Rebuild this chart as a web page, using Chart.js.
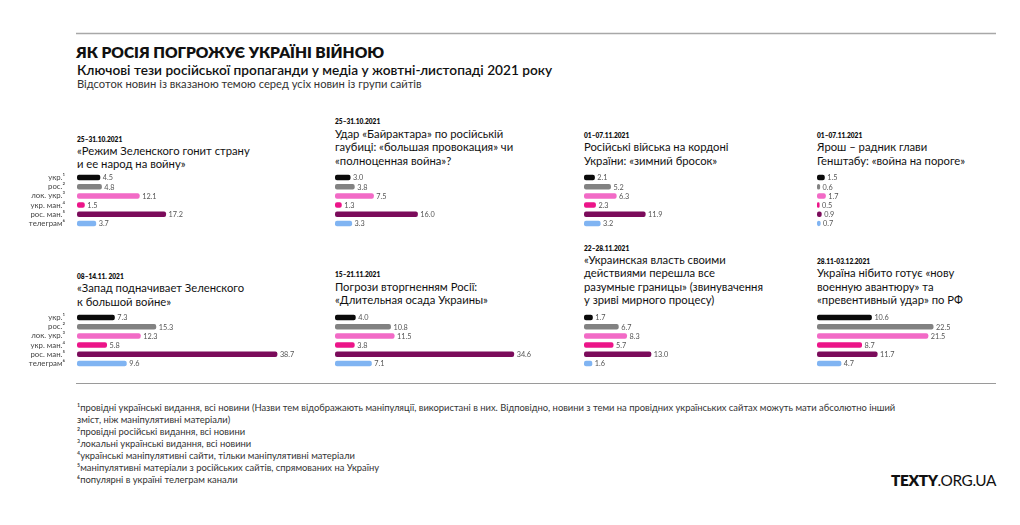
<!DOCTYPE html>
<html><head><meta charset="utf-8">
<script src="https://cdn.jsdelivr.net/npm/chart.js@4.4.1/dist/chart.umd.min.js"></script>
<style>
html,body{margin:0;padding:0;background:#fff;width:1020px;height:525px;overflow:hidden;}
#wrap{position:relative;width:1020px;height:525px;}
svg{position:absolute;left:0;top:0;}
canvas{position:absolute;}
</style></head><body><div id="wrap"><svg id="txt" width="1020" height="525" xmlns="http://www.w3.org/2000/svg"></svg></div>
<script>
// ---- data ----
const categories = ['укр.¹', 'рос.²', 'лок. укр.³', 'укр. ман.⁴', 'рос. ман.⁵', 'телеграм⁶'];
const panelDates = ['25–31.10.2021', '25–31.10.2021', '01–07.11.2021', '01–07.11.2021',
                    '08–14.11. 2021', '15–21.11.2021', '22–28.11.2021', '28.11-03.12.2021'];
const panelTitles = [
  ['«Режим Зеленского гонит страну', 'и ее народ на войну»'],
  ['Удар «Байрактара» по російській', 'гаубиці: «большая провокация» чи', '«полноценная война»?'],
  ['Російські війська на кордоні', 'України: «зимний бросок»'],
  ['Ярош – радник глави', 'Генштабу:  «война на пороге»'],
  ['«Запад подначивает Зеленского', 'к большой войне»'],
  ['Погрози вторгненням Росії:', '«Длительная осада Украины»'],
  ['«Украинская власть своими', 'действиями перешла все', 'разумные границы» (звинувачення', 'у зриві мирного процесу)'],
  ['Україна нібито готує «нову', 'военную авантюру» та', '«превентивный удар» по РФ']
];
const values1 = [4.5, 4.8, 12.1, 1.5, 17.2, 3.7];
const values2 = [3.0, 3.8, 7.5, 1.3, 16.0, 3.3];
const values3 = [2.1, 5.2, 6.3, 2.3, 11.9, 3.2];
const values4 = [1.5, 0.6, 1.7, 0.5, 0.9, 0.7];
const values5 = [7.3, 15.3, 12.3, 5.8, 38.7, 9.6];
const values6 = [4.0, 10.8, 11.5, 3.8, 34.6, 7.1];
const values7 = [1.7, 6.7, 8.3, 5.7, 13.0, 1.6];
const values8 = [10.6, 22.5, 21.5, 8.7, 11.7, 4.7];
const panelValues = [values1, values2, values3, values4, values5, values6, values7, values8];
const footnotes = [
  '¹провідні українські видання, всі новини (Назви тем відображають маніпуляції, використані в них. Відповідно, новини з теми на провідних українських сайтах можуть мати абсолютно інший',
  'зміст, ніж маніпулятивні матеріали)',
  '²провідні російські видання, всі новини',
  '³локальні українські видання, всі новини',
  '⁴українські маніпулятивні сайти, тільки маніпулятивні матеріали',
  '⁵маніпулятивні матеріали з російських сайтів, спрямованих на Україну',
  '⁶популярні в україні телеграм канали'
];
const xMax = 45;

// ---- styles ----
const FONT = 'Lato, "Open Sans", sans-serif';
const barColors = ['#0b0b0b', '#828282', '#f26ac6', '#ec1589', '#7b0b5b', '#80b4f2'];
const colX = [77, 335, 584, 817];
const rowBarTop = [172.5, 313];
const rowLastBaseline = [164.5, 304];
const panelShift = [3.5, 0, 0, 0, 1.5, 0, 0, 0];
const areaW = xMax * 5.18;
const axisW = 67;

// ---- static text (SVG) ----
const svg = document.getElementById('txt');
const NS = 'http://www.w3.org/2000/svg';
function txt(x, y, s, size, weight, color, anchor) {
  const t = document.createElementNS(NS, 'text');
  t.setAttribute('x', x); t.setAttribute('y', y);
  t.setAttribute('font-family', FONT);
  t.setAttribute('font-size', size);
  t.setAttribute('font-weight', weight || 400);
  t.setAttribute('fill', color || '#111');
  if (anchor) t.setAttribute('text-anchor', anchor);
  t.textContent = s;
  svg.appendChild(t);
  return t;
}
function line(x1, y1, x2, y2, color, w) {
  const l = document.createElementNS(NS, 'line');
  l.setAttribute('x1', x1); l.setAttribute('y1', y1);
  l.setAttribute('x2', x2); l.setAttribute('y2', y2);
  l.setAttribute('stroke', color); l.setAttribute('stroke-width', w);
  svg.appendChild(l);
}
line(76, 33.5, 996, 33.5, '#a8a8a8', 1.5);
line(76, 383.5, 996, 383.5, '#9a9a9a', 1);
txt(76, 58, 'ЯК РОСІЯ ПОГРОЖУЄ УКРАЇНІ ВІЙНОЮ', 15.5, 800, '#111');
txt(77, 74.5, 'Ключові тези російської пропаганди у медіа у жовтні-листопаді 2021 року', 13.7, 600, '#111');
txt(77, 88, 'Відсоток новин із вказаною темою серед усіх новин із групи сайтів', 11.2, 400, '#333');

panelTitles.forEach((lines, p) => {
  const row = Math.floor(p / 4), col = p % 4;
  const x = colX[col];
  const last = rowLastBaseline[row] + panelShift[p];
  const n = lines.length;
  const step = p === 0 ? 12.6 : 13.4;
  lines.forEach((s, i) => {
    txt(x, last - (n - 1 - i) * step, s, 11.25, 400, '#111');
  });
  const firstBase = last - (n - 1) * step;
  txt(x, firstBase - 13.3, panelDates[p], 6.6, 800, '#111');
});

footnotes.forEach((s, i) => {
  txt(77, 410.5 + i * 12.1, s, 9.4, 400, '#333');
});
const logo = txt(996, 486, '', 15.4, 800, '#111', 'end');
const t1 = document.createElementNS(NS, 'tspan'); t1.textContent = 'TEXTY'; t1.setAttribute('font-weight', 800);
const t2 = document.createElementNS(NS, 'tspan'); t2.textContent = '.ORG.UA'; t2.setAttribute('font-weight', 400);
logo.appendChild(t1); logo.appendChild(t2);
logo.setAttribute('letter-spacing', '-0.4');

// ---- charts ----
const valueLabels = {
  id: 'valueLabels',
  afterDatasetsDraw(chart) {
    const ctx = chart.ctx;
    const meta = chart.getDatasetMeta(0);
    const data = chart.data.datasets[0].data;
    ctx.save();
    ctx.font = '7.3px ' + FONT;
    ctx.fillStyle = '#555';
    ctx.textBaseline = 'middle';
    ctx.textAlign = 'left';
    meta.data.forEach((bar, i) => {
      ctx.fillText(data[i].toFixed(1), bar.x + 2.5, bar.y + 0.5);
    });
    ctx.restore();
  }
};

const wrap = document.getElementById('wrap');
panelValues.forEach((vals, p) => {
  const row = Math.floor(p / 4), col = p % 4;
  const withAxis = col === 0;
  const cv = document.createElement('canvas');
  const w = Math.round(areaW + (withAxis ? axisW : 0));
  const h = 55;
  cv.width = w; cv.height = h;
  cv.style.width = w + 'px'; cv.style.height = h + 'px';
  cv.style.left = (colX[col] - (withAxis ? axisW : 0)) + 'px';
  cv.style.top = rowBarTop[row] + 'px';
  wrap.appendChild(cv);
  const yScale = {
    display: withAxis,
    grid: { display: false },
    border: { display: false },
    ticks: { autoSkip: false, font: { family: FONT, size: 7.8 }, color: '#444', padding: 4 }
  };
  if (withAxis) yScale.afterFit = (s) => {
    s.width = axisW; s.paddingTop = 0; s.paddingBottom = 0;
  };
  new Chart(cv, {
    type: 'bar',
    data: {
      labels: categories,
      datasets: [{
        data: vals,
        backgroundColor: barColors,
        borderRadius: 2,
        borderSkipped: false,
        barPercentage: 0.6,
        categoryPercentage: 1
      }]
    },
    options: {
      indexAxis: 'y',
      responsive: false,
      animation: false,
      devicePixelRatio: 1,
      layout: { padding: 0 },
      plugins: { legend: { display: false }, tooltip: { enabled: false } },
      scales: {
        x: { display: false, min: 0, max: xMax },
        y: yScale
      }
    },
    plugins: [valueLabels]
  });
});
</script></body></html>
